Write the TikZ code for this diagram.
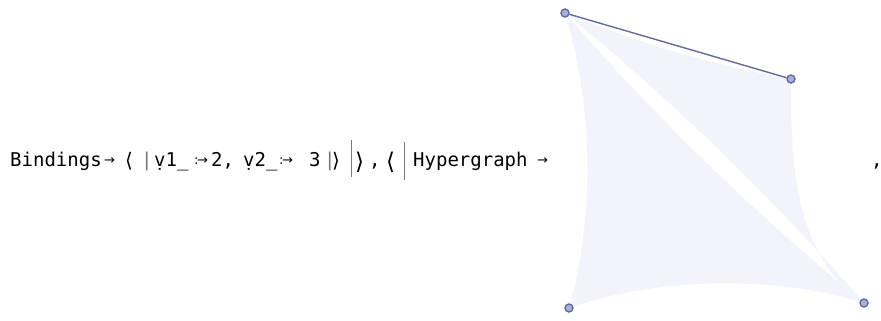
\documentclass[tikz,border=0pt]{standalone}
\usepackage{fontspec}
\usepackage{tikz}
\usetikzlibrary{positioning}
\newfontfamily\codefont{DejaVu Sans Mono}
\newfontfamily\symfont{DejaVu Sans}
\definecolor{hgline}{RGB}{98,106,158}
\definecolor{hgvert}{RGB}{170,176,214}
\definecolor{hgfill}{RGB}{243,244,251}
\definecolor{bargray}{RGB}{120,120,120}
\newcommand{\ruledelayed}{:\kern-1.5pt→}

\tikzset{
  code/.style={anchor=base west, inner sep=0pt, font=\codefont\fontsize{19}{19}\selectfont},
  small/.style={anchor=base west, inner sep=0pt, font=\symfont\fontsize{13}{13}\selectfont},
  brack/.style={anchor=base west, inner sep=0pt, font=\symfont\fontsize{20}{20}\selectfont},
  bigbrack/.style={anchor=base west, inner sep=0pt, font=\symfont\fontsize{23}{23}\selectfont},
  vert/.style={circle, draw=hgline, fill=hgvert, line width=1.4pt, minimum size=8pt, inner sep=0pt},
  hedge/.style={fill=hgfill, draw=none}
}

\begin{document}
\begin{tikzpicture}[x=1pt,y=-1pt]
  \useasboundingbox (0,0) rectangle (881,321);

  % the binding text
  \node[code] (bind) at (10,166) {Bindings};
  \node[small] (arrA) at (104,164) {→};
  \node[brack] (langA) at (125,167) {⟨};
  \node[code,text=bargray] (barA) at (141,166) {|};
  \node[code] (vone) at (154,166) {\d{v}1\_};
  \node[small] (rdA) at (194,164) {\ruledelayed};
  \node[code] (two) at (211,166) {2,};
  \node[code] (vtwo) at (243,166) {\d{v}2\_};
  \node[small] (rdB) at (279,164) {\ruledelayed};
  \node[code] (three) at (309,166) {3};
  \node[code,text=bargray] (barB) at (324,166) {|};
  \node[brack] (rangB) at (332,167) {⟩};
  \node[anchor=base west, inner sep=0pt, text=bargray] (barC) at (351,166) {\rule[-11pt]{1pt}{37pt}};
  \node[bigbrack] (rangC) at (355,169) {⟩};
  \node[code] (commaA) at (369,166) {,};
  \node[bigbrack] (langD) at (386,169) {⟨};
  \node[anchor=base west, inner sep=0pt, text=bargray] (barD) at (404,166) {\rule[-14pt]{1pt}{38pt}};
  \node[code] (hyper) at (413,166) {Hypergraph};
  \node[small] (arrD) at (537,164) {→};
  \node[code] (commaE) at (871,166) {,};

  % the hypergraph
  \coordinate (a) at (565,13);
  \coordinate (b) at (791,79);
  \coordinate (c) at (569,308);
  \coordinate (d) at (864,303);
  \path[hedge] (a) .. controls (594,110) and (594,220) .. (c)
    .. controls (660,276) and (780,276) .. (d)
    .. controls (756,215) and (656,118) .. (a) -- cycle;
  \path[hedge] (a) .. controls (638,43) and (713,65) .. (b)
    .. controls (790,180) and (800,260) .. (d)
    .. controls (773,198) and (673,101) .. (a) -- cycle;
  \node[vert] (va) at (a) {};
  \node[vert] (vb) at (b) {};
  \node[vert] (vc) at (c) {};
  \node[vert] (vd) at (d) {};
  \draw[hgline, line width=1.4pt] (va) -- (vb);
\end{tikzpicture}
\end{document}
